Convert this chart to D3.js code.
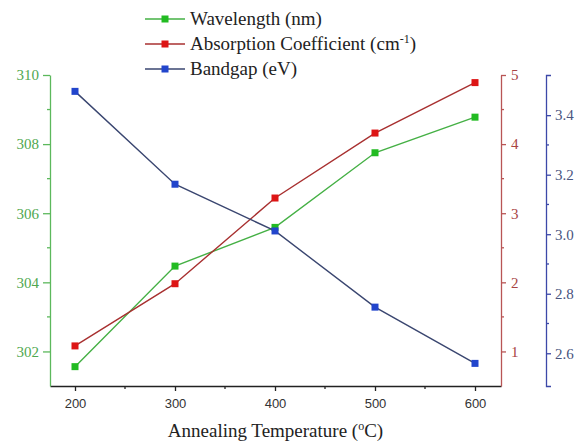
<!DOCTYPE html>
<html>
<head>
<meta charset="utf-8">
<script src="https://cdn.jsdelivr.net/npm/d3@7"></script>
</head>
<body style="margin:0">
<script>
// data
const temperatures = [200, 300, 400, 500, 600];
const wavelength = [301.56, 304.47, 305.59, 307.75, 308.78];
const absorption = [1.08, 1.98, 3.22, 4.16, 4.89];
const bandgap = [3.48, 3.168, 3.011, 2.755, 2.566];

const xTicks = [200, 300, 400, 500, 600];
const xMinor = [250, 350, 450, 550];
const leftTicks = [302, 304, 306, 308, 310];
const leftMinor = [303, 305, 307, 309];
const redTicks = [1, 2, 3, 4, 5];
const redMinor = [1.5, 2.5, 3.5, 4.5];
const blueTicks = [2.6, 2.8, 3.0, 3.2, 3.4];
const blueMinor = [2.7, 2.9, 3.1, 3.3];

const W = 582, H = 444;
const plot = { left: 50, right: 501, top: 75, bottom: 386 };
const blueX = 546;

const fontSerif = "Liberation Serif";
const fontSans = "Liberation Sans";

const col = {
    green: { line: "#45b045", mark: "#22bb22", axis: "#5cb85c", text: "#4fa84f" },
    red: { line: "#a83030", mark: "#dd1515", axis: "#b85555", text: "#a84444" },
    blue: { line: "#3a4670", mark: "#2245cc", axis: "#3c48a8", text: "#4a5580" },
};

const x = d3.scaleLinear().domain([175, 626]).range([plot.left, plot.right]);
const yL = d3.scaleLinear().domain([301, 310]).range([plot.bottom, plot.top]);
const yR = d3.scaleLinear().domain([0.5, 5]).range([plot.bottom, plot.top]);
const yB = d3.scaleLinear().domain([2.49, 3.535]).range([plot.bottom, plot.top]);

const svg = d3.select("body").append("svg").attr("width", W).attr("height", H);

function styleAxis(g, color, textColor, font, size) {
    g.attr("font-family", font).attr("font-size", size);
    g.select(".domain").attr("stroke", color).attr("stroke-width", 1.3);
    g.selectAll(".tick line").attr("stroke", color).attr("stroke-width", 1.3);
    g.selectAll(".tick text").attr("fill", textColor).attr("font-family", font);
}

// x axis
const gx = svg.append("g").attr("transform", `translate(0,${plot.bottom})`);
gx.call(d3.axisBottom(x).tickValues(xTicks).tickSize(5).tickSizeOuter(0).tickPadding(8).tickFormat(d3.format("d")));
styleAxis(gx, "#222", "#333", fontSans, 13);
gx.append("g").selectAll("line").data(xMinor).enter().append("line")
    .attr("x1", (d) => x(d)).attr("x2", (d) => x(d))
    .attr("y1", 0).attr("y2", 3)
    .attr("stroke", "#222").attr("stroke-width", 1.3);

// left axis (wavelength)
const gl = svg.append("g").attr("transform", `translate(${plot.left},0)`);
gl.call(d3.axisLeft(yL).tickValues(leftTicks).tickSize(7).tickSizeOuter(0).tickPadding(4).tickFormat(d3.format("d")));
styleAxis(gl, col.green.axis, col.green.text, fontSerif, 15);
gl.append("g").selectAll("line").data(leftMinor).enter().append("line")
    .attr("y1", (d) => yL(d)).attr("y2", (d) => yL(d))
    .attr("x1", 0).attr("x2", -3)
    .attr("stroke", col.green.axis).attr("stroke-width", 1.3);

// right axis (absorption)
const gr = svg.append("g").attr("transform", `translate(${plot.right},0)`);
gr.call(d3.axisRight(yR).tickValues(redTicks).tickSize(5).tickSizeOuter(0).tickPadding(5).tickFormat(d3.format("d")));
styleAxis(gr, col.red.axis, col.red.text, fontSerif, 15);
gr.append("g").selectAll("line").data(redMinor).enter().append("line")
    .attr("y1", (d) => yR(d)).attr("y2", (d) => yR(d))
    .attr("x1", 0).attr("x2", 3)
    .attr("stroke", col.red.axis).attr("stroke-width", 1.3);

// offset right axis (bandgap)
const gb = svg.append("g").attr("transform", `translate(${blueX},0)`);
gb.call(d3.axisRight(yB).tickValues(blueTicks).tickSize(5).tickSizeOuter(5).tickPadding(4).tickFormat(d3.format(".1f")));
styleAxis(gb, col.blue.axis, col.blue.text, fontSerif, 15);
gb.append("g").selectAll("line").data(blueMinor).enter().append("line")
    .attr("y1", (d) => yB(d)).attr("y2", (d) => yB(d))
    .attr("x1", 0).attr("x2", 3)
    .attr("stroke", col.blue.axis).attr("stroke-width", 1.3);

// series
const series = [
    { name: "Wavelength (nm)", values: wavelength, y: yL, c: col.green },
    { name: "Absorption Coefficient (cm", sup: "-1", tail: ")", values: absorption, y: yR, c: col.red },
    { name: "Bandgap (eV)", values: bandgap, y: yB, c: col.blue },
];

const line = (s) => d3.line()
    .x((d, i) => x(temperatures[i]))
    .y((d) => s.y(d));

const ms = 7;
series.forEach((s) => {
    svg.append("path")
        .attr("d", line(s)(s.values))
        .attr("fill", "none")
        .attr("stroke", s.c.line)
        .attr("stroke-width", 1.4);
    svg.append("g").selectAll("rect").data(s.values).enter().append("rect")
        .attr("x", (d, i) => x(temperatures[i]) - ms / 2)
        .attr("y", (d) => s.y(d) - ms / 2)
        .attr("width", ms).attr("height", ms)
        .attr("fill", s.c.mark);
});

// legend
const legend = svg.append("g").attr("transform", "translate(145,19)");
series.forEach((s, i) => {
    const row = legend.append("g").attr("transform", `translate(0,${i * 25})`);
    row.append("line").attr("x1", 0).attr("x2", 40).attr("y1", 0).attr("y2", 0)
        .attr("stroke", s.c.line).attr("stroke-width", 1.4);
    row.append("rect").attr("x", 20 - ms / 2).attr("y", -ms / 2).attr("width", ms).attr("height", ms)
        .attr("fill", s.c.mark);
    const t = row.append("text").attr("x", 45).attr("y", 6)
        .attr("font-family", fontSerif).attr("font-size", 19).attr("fill", "#222")
        .text(s.name);
    if (s.sup) {
        t.append("tspan").attr("dy", -7).attr("font-size", 12).text(s.sup);
        t.append("tspan").attr("dy", 7).text(s.tail);
    }
});

// x axis title
const title = svg.append("text")
    .attr("x", (plot.left + plot.right) / 2).attr("y", 437)
    .attr("text-anchor", "middle")
    .attr("font-family", fontSerif).attr("font-size", 19).attr("fill", "#222")
    .text("Annealing Temperature (");
title.append("tspan").attr("dy", -7).attr("font-size", 12).text("o");
title.append("tspan").attr("dy", 7).text("C)");
</script>
</body>
</html>
